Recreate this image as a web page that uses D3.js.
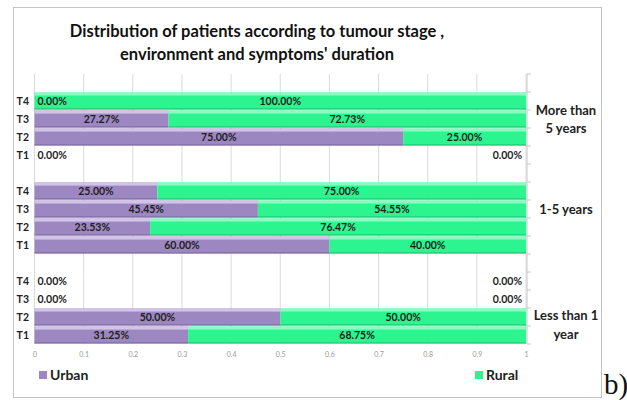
<!DOCTYPE html>
<html>
<head>
<meta charset="utf-8">
<script src="https://cdn.jsdelivr.net/npm/d3@7"></script>
<style>
  body { margin: 0; background: #fff; }
  text { font-family: Lato, "Open Sans", sans-serif; }
</style>
</head>
<body>
<div id="chart"></div>
<script>
// data (shares per stage, top to bottom)
var groups = ["More than 5 years", "1-5 years", "Less than 1 year"];
var groupLines = [["More than", "5 years"], ["1-5 years"], ["Less than 1", "year"]];
var stages = ["T4", "T3", "T2", "T1"];
var urban = [
  [0.0000, 0.2727, 0.7500, 0.0000],
  [0.2500, 0.4545, 0.2353, 0.6000],
  [0.0000, 0.0000, 0.5000, 0.3125]
];
var rural = [
  [1.0000, 0.7273, 0.2500, 0.0000],
  [0.7500, 0.5455, 0.7647, 0.4000],
  [0.0000, 0.0000, 0.5000, 0.6875]
];
var xTicks = [0, 0.1, 0.2, 0.3, 0.4, 0.5, 0.6, 0.7, 0.8, 0.9, 1];
var seriesNames = ["Urban", "Rural"];

var W = 627, H = 400;
var col = {
  Urban: { main: "#9d87c1", hi: "#d2c4ea", edge: "#7d689f" },
  Rural: { main: "#2cf590", hi: "#8afcc3", edge: "#1fbd6f" }
};

var svg = d3.select("#chart").append("svg")
    .attr("width", W)
    .attr("height", H);

// frame of the chart
svg.append("rect")
    .attr("x", 13.5).attr("y", 7.5)
    .attr("width", 588).attr("height", 390)
    .attr("fill", "#fff")
    .attr("stroke", "#c4c4c4");

// slots: one empty at the top, one between groups
var slots = [];
groups.forEach(function(g, gi) {
  slots.push("gap" + gi);
  stages.forEach(function(s) { slots.push(g + "|" + s); });
});

var x = d3.scaleLinear().domain([0, 1]).range([34.5, 526]);
var y = d3.scaleBand().domain(slots).range([74, 344])
    .paddingInner(0.06).paddingOuter(0.03);

// gridlines
svg.append("g").selectAll("line")
  .data(xTicks)
  .enter().append("line")
    .attr("x1", function(d) { return x(d); })
    .attr("x2", function(d) { return x(d); })
    .attr("y1", 74).attr("y2", 344)
    .attr("stroke", "#dadada");

// x axis labels
svg.append("g")
    .attr("transform", "translate(0,344)")
    .call(d3.axisBottom(x).tickValues(xTicks).tickFormat(d3.format("")).tickSize(0).tickPadding(8))
    .call(function(g) { g.select(".domain").remove(); })
    .selectAll("text")
    .attr("fill", "#999")
    .style("font-size", "7px");

// right side category axis line with ticks at slot edges
var step = y.step();
var edges = d3.range(slots.length + 1).map(function(i) { return 74 + i * (270 / slots.length); });
svg.append("line")
    .attr("x1", x(1) + 1).attr("x2", x(1) + 1)
    .attr("y1", 74).attr("y2", 344)
    .attr("stroke", "#c8c8c8");
svg.append("g").selectAll("line")
  .data(edges)
  .enter().append("line")
    .attr("x1", x(1) + 1).attr("x2", x(1) + 5)
    .attr("y1", function(d) { return d; })
    .attr("y2", function(d) { return d; })
    .attr("stroke", "#c8c8c8");

// build segments
var rows = [];
groups.forEach(function(g, gi) {
  stages.forEach(function(s, si) {
    var u = urban[gi][si], r = rural[gi][si];
    rows.push({ key: g + "|" + s, stage: s, series: "Urban", x0: 0, x1: u, v: u });
    rows.push({ key: g + "|" + s, stage: s, series: "Rural", x0: u, x1: u + r, v: r });
  });
});

var bh = y.bandwidth();
var seg = svg.append("g").selectAll("g")
  .data(rows.filter(function(d) { return d.v > 0; }))
  .enter().append("g");

seg.append("rect")
    .attr("x", function(d) { return x(d.x0); })
    .attr("y", function(d) { return y(d.key); })
    .attr("width", function(d) { return x(d.x1) - x(d.x0); })
    .attr("height", bh)
    .attr("fill", function(d) { return col[d.series].main; });

seg.append("rect")
    .attr("x", function(d) { return x(d.x0); })
    .attr("y", function(d) { return y(d.key) + 0.5; })
    .attr("width", function(d) { return x(d.x1) - x(d.x0); })
    .attr("height", 2.5)
    .attr("fill", function(d) { return col[d.series].hi; });

seg.append("line")
    .attr("x1", function(d) { return x(d.x0); })
    .attr("x2", function(d) { return x(d.x1); })
    .attr("y1", function(d) { return y(d.key) + bh - 0.5; })
    .attr("y2", function(d) { return y(d.key) + bh - 0.5; })
    .attr("stroke", function(d) { return col[d.series].edge; });

// data labels
var pct = function(v) { return (v * 100).toFixed(2) + "%"; };
svg.append("g").selectAll("text")
  .data(rows)
  .enter().append("text")
    .attr("x", function(d) {
      if (d.v === 0) return d.series === "Urban" ? x(0) + 3 : x(1) - 4;
      return (x(d.x0) + x(d.x1)) / 2;
    })
    .attr("y", function(d) { return y(d.key) + bh / 2; })
    .attr("dy", "0.4em")
    .attr("text-anchor", function(d) {
      if (d.v === 0) return d.series === "Urban" ? "start" : "end";
      return "middle";
    })
    .attr("fill", "#1e1e1e")
    .style("font-size", "10.5px")
    .style("font-weight", "bold")
    .text(function(d) { return pct(d.v); });

// stage labels on the left
svg.append("g").selectAll("text")
  .data(slots.filter(function(s) { return s.indexOf("|") > 0; }))
  .enter().append("text")
    .attr("x", 29)
    .attr("y", function(d) { return y(d) + bh / 2; })
    .attr("dy", "0.4em")
    .attr("text-anchor", "end")
    .attr("fill", "#222")
    .style("font-size", "10.5px")
    .style("font-weight", "bold")
    .text(function(d) { return d.split("|")[1]; });

// group labels on the right
var labelSlot = [1.5, 1.5, 2.9];
groups.forEach(function(g, gi) {
  var cy = y(g + "|T4") + labelSlot[gi] * step;
  var lines = groupLines[gi];
  var t = svg.append("text")
      .attr("x", 566)
      .attr("text-anchor", "middle")
      .attr("fill", "#222")
      .style("font-size", "13px")
      .style("font-weight", "bold");
  lines.forEach(function(l, li) {
    t.append("tspan")
      .attr("x", 566)
      .attr("y", cy + (li - (lines.length - 1) / 2) * 18.5)
      .attr("dy", "0.36em")
      .text(l);
  });
});

// title
var title = ["Distribution of patients according to tumour stage ,", "environment and symptoms' duration"];
svg.append("g").selectAll("text")
  .data(title)
  .enter().append("text")
    .attr("x", 257)
    .attr("y", function(d, i) { return 37 + i * 23; })
    .attr("text-anchor", "middle")
    .attr("fill", "#111")
    .style("font-size", "16.5px")
    .style("font-weight", "bold")
    .text(function(d) { return d; });

// legend
var legX = [39, 475];
var leg = svg.append("g").selectAll("g")
  .data(seriesNames)
  .enter().append("g")
    .attr("transform", function(d, i) { return "translate(" + legX[i] + ",371)"; });
leg.append("rect")
    .attr("width", 8).attr("height", 8)
    .attr("fill", function(d) { return col[d].main; });
leg.append("text")
    .attr("x", 11).attr("y", 4)
    .attr("dy", "0.36em")
    .attr("fill", "#222")
    .style("font-size", "14px")
    .style("font-weight", "bold")
    .text(function(d) { return d; });

// panel tag outside the frame
svg.append("text")
    .attr("x", 604).attr("y", 394)
    .style("font-family", "'Liberation Serif', serif")
    .style("font-size", "29px")
    .attr("fill", "#111")
    .text("b)");
</script>
</body>
</html>
